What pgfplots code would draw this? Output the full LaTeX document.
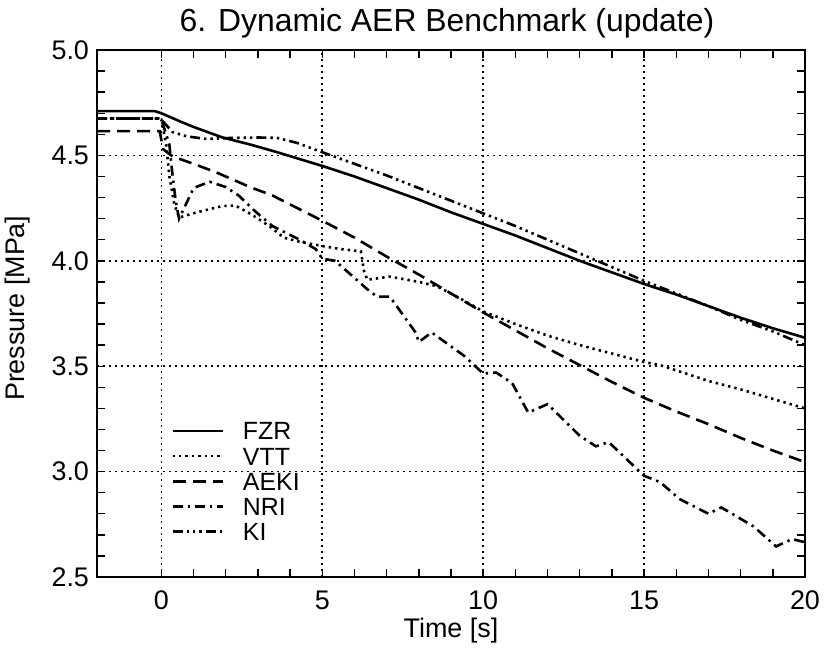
\documentclass[border=0pt]{standalone}
\usepackage{fontspec}
\setmainfont{Liberation Sans}
\usepackage{pgfplots}
\pgfplotsset{compat=1.18}
\begin{document}
\begin{tikzpicture}
\useasboundingbox (0,0) rectangle (412bp,325bp);
\begin{axis}[
  at={(48.5bp,36.5bp)}, anchor=south west,
  scale only axis, width=354bp, height=263.5bp,
  xmin=-2, xmax=20, ymin=2.5, ymax=5.0,
  xtick={0,5,10,15,20}, ytick={2.5,3.0,3.5,4.0,4.5,5.0},
  minor x tick num=4, minor y tick num=4,
  tick align=inside,
  major tick length=4bp, minor tick length=4bp,
  grid=major, major grid style={dash pattern=on 0.8bp off 2.2bp, line width=0.8bp, black},
  every tick/.style={black, line width=0.7bp},
  axis line style={line width=0.9bp},
  /pgf/number format/assume math mode=true,
  yticklabel={\pgfmathprintnumber[fixed,fixed zerofill,precision=1]{\tick}},
  tick label style={font=\fontsize{13.5}{15}\selectfont},
  yticklabel style={xshift=-0.5bp},
  xticklabel style={yshift=-3.5bp},
  xlabel={Time [s]}, ylabel={Pressure [MPa]},
  xlabel style={at={(axis description cs:0.5,0)}, anchor=center, yshift=-27bp,
    font=\fontsize{13.5}{15}\selectfont},
  ylabel style={at={(axis description cs:-0.1116,0.51)}, anchor=center,
    font=\fontsize{13.5}{15}\selectfont},
  title={6. Dynamic AER Benchmark (update)},
  title style={at={(axis description cs:0.5,1)}, anchor=base, yshift=3.5bp, xshift=-2bp,
    font=\fontsize{16}{19}\selectfont},
  legend cell align=left,
  legend style={draw=none, fill=none, at={(0.1045,0.068)}, anchor=south west,
    row sep=3.6bp, column sep=9.5bp, inner sep=0pt,
    nodes={inner sep=0pt, text height=9bp, text depth=0bp, font=\fontsize{12.5}{13}\selectfont}},
  legend image code/.code={\draw[#1] (0bp,0bp) -- (25bp,0bp);},
  every axis plot/.append style={line width=1.3bp, black},
]
\addplot[solid, mark=none] coordinates {(-2,4.71) (-0.2,4.71) (0,4.70) (0.6,4.66) (1.0,4.635) (1.9,4.585) (2.8,4.55) (3.6,4.515) (5,4.45) (6,4.40) (7,4.345) (8,4.29) (9,4.23) (10,4.175) (11,4.12) (12,4.06) (13,4.00) (14,3.945) (15,3.89) (16,3.84) (17,3.785) (18,3.73) (19,3.68) (20,3.635)};
\addlegendentry{FZR}
\addplot[dash pattern=on 1.2bp off 2bp] coordinates {(-2,4.675) (-0.1,4.675) (0,4.67) (0.15,4.55) (0.25,4.40) (0.4,4.27) (0.55,4.205) (1.1,4.23) (1.9,4.26) (2.3,4.262) (2.8,4.22) (3.4,4.16) (3.8,4.11) (4.3,4.09) (5,4.07) (5.6,4.055) (6.2,4.045) (6.3,3.95) (6.4,3.91) (7.1,3.925) (8,3.90) (8.55,3.88) (9.3,3.82) (10,3.76) (11,3.70) (12,3.645) (13,3.60) (14,3.56) (15,3.52) (15.5,3.505) (16,3.48) (17,3.43) (18,3.39) (19,3.345) (20,3.30)};
\addlegendentry{VTT}
\addplot[dash pattern=on 6.5bp off 3.5bp] coordinates {(-2,4.615) (-0.05,4.615) (0.05,4.53) (0.35,4.495) (1.0,4.46) (1.7,4.42) (2.75,4.35) (3.45,4.31) (5,4.19) (6,4.11) (7,4.02) (8,3.935) (9,3.845) (10,3.755) (11,3.67) (12,3.585) (13,3.505) (14,3.425) (15,3.35) (16,3.285) (17,3.225) (18,3.16) (19,3.10) (20,3.045)};
\addlegendentry{AEKI}
\addplot[dash pattern=on 5bp off 2.5bp on 1.2bp off 2.5bp] coordinates {(-2,4.675) (-0.1,4.675) (0,4.67) (0.15,4.60) (0.25,4.55) (0.35,4.40) (0.45,4.28) (0.55,4.20) (0.8,4.28) (1.0,4.345) (1.5,4.375) (2.0,4.35) (2.4,4.31) (2.95,4.23) (3.45,4.165) (4.3,4.10) (4.8,4.055) (5.0,4.01) (5.4,4.0) (6.4,3.865) (6.7,3.83) (7.1,3.83) (7.9,3.66) (8.0,3.615) (8.4,3.66) (9.4,3.55) (10,3.465) (10.4,3.47) (10.9,3.42) (11.4,3.28) (12.0,3.32) (13.0,3.17) (13.5,3.12) (13.9,3.14) (15.0,2.98) (15.5,2.95) (16.1,2.87) (17.0,2.80) (17.4,2.83) (18.4,2.74) (19.1,2.645) (19.6,2.68) (20,2.665)};
\addlegendentry{NRI}
\addplot[dash pattern=on 5bp off 2bp on 1.2bp off 2bp on 1.2bp off 2bp on 1.2bp off 2bp] coordinates {(-2,4.675) (-0.1,4.675) (0,4.67) (0.35,4.61) (0.8,4.59) (1.4,4.578) (2.2,4.583) (3.0,4.585) (3.6,4.583) (4.2,4.56) (5,4.515) (6,4.46) (7,4.405) (8,4.345) (9,4.285) (10,4.225) (11,4.165) (12,4.10) (13,4.035) (14,3.97) (15,3.905) (16,3.845) (17,3.785) (18,3.72) (19,3.665) (20,3.60)};
\addlegendentry{KI}
\end{axis}
\end{tikzpicture}
\end{document}
